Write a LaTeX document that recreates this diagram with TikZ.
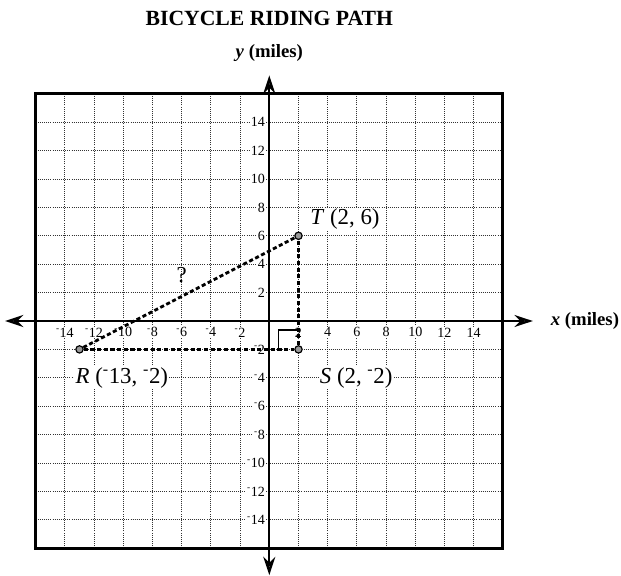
\documentclass[tikz,border=0pt]{standalone}
\usepackage{fontspec}
\setmainfont{Liberation Serif}
\usetikzlibrary{arrows.meta}
\newcommand{\mn}{\textsuperscript{-}}
\tikzset{
  gridline/.style={black!80,line width=0.8pt,densely dotted},
  axisline/.style={line width=2pt,{Stealth[length=0.55cm,width=0.36cm,fill=black!45]}-{Stealth[length=0.55cm,width=0.36cm,fill=black!45]}},
  pathline/.style={line width=2.4pt,dash pattern=on 3.5pt off 2.2pt},
  pt/.style={circle,draw,fill=black!40,line width=1pt,inner sep=0pt,minimum size=0.22cm},
  ticklbl/.style={fill=white,inner sep=1pt,font=\fontsize{12}{14}\selectfont},
  ptlbl/.style={fill=white,inner sep=1pt,font=\fontsize{19.5}{22}\selectfont}
}
\begin{document}
\begin{tikzpicture}[x=0.438cm,y=0.426cm]
	\useasboundingbox (-18.445,-17.958) rectangle (24.089,22.606);
	% grid and frame
	\foreach \g in {-14,-12,...,14} {
		\draw[gridline] (\g,-16) -- (\g,16);
		\draw[gridline] (-16,\g) -- (16,\g);
	}
	\draw[line width=2.6pt] (-16,-16) rectangle (16,16);
	
	% axes
	\coordinate (xl) at (-18.1,0);
	\coordinate (xr) at (18.05,0);
	\coordinate (yb) at (0,-17.9);
	\coordinate (yt) at (0,17.3);
	\draw[axisline] (xl) -- (xr);
	\draw[axisline] (yb) -- (yt);
	
	% tick labels
	\foreach \v in {2,4,...,14} {
		\node[ticklbl] (xp\v) at (\v,-0.8) {\v};
		\node[ticklbl] (xn\v) at (-\v,-0.8) {\mn\v};
		\node[ticklbl,anchor=east] (yp\v) at (-0.2,\v) {\v};
		\node[ticklbl,anchor=east] (yn\v) at (-0.2,-\v) {\mn\v};
	}
	
	\node[font=\fontsize{18.5}{22}\selectfont\bfseries] (title) at (0,21.34) {BICYCLE RIDING PATH};
	\node[font=\fontsize{16}{18}\selectfont\bfseries] (ylbl) at (0,18.87) {\textit{y} (miles)};
	\node[font=\fontsize{16}{18}\selectfont\bfseries,anchor=west] (xlbl) at (19.0,0) {\textit{x} (miles)};
	
	% riding path
	\node[pt] (R) at (-13,-2) {};
	\node[pt] (S) at (2,-2) {};
	\node[pt] (T) at (2,6) {};
	\draw[pathline] (R)--(T);
	\draw[pathline] (R)--(S);
	\draw[pathline] (S)--(T);
	\draw[line width=1.6pt] (0.63,-2) -- (0.63,-0.64) -- (2,-0.64);
	
	\node[ptlbl] (Tlbl) at (5.18,7.16) {\textit{T} (2, 6)};
	\node[ptlbl] (Rlbl) at (-10.1,-4.0) {\textit{R} (\mn13, \mn2)};
	\node[ptlbl] (Slbl) at (5.95,-4.0) {\textit{S} (2, \mn2)};
	\node[font=\fontsize{19.5}{22}\selectfont] (q) at (-6,3.2) {?};
\end{tikzpicture}
\end{document}
